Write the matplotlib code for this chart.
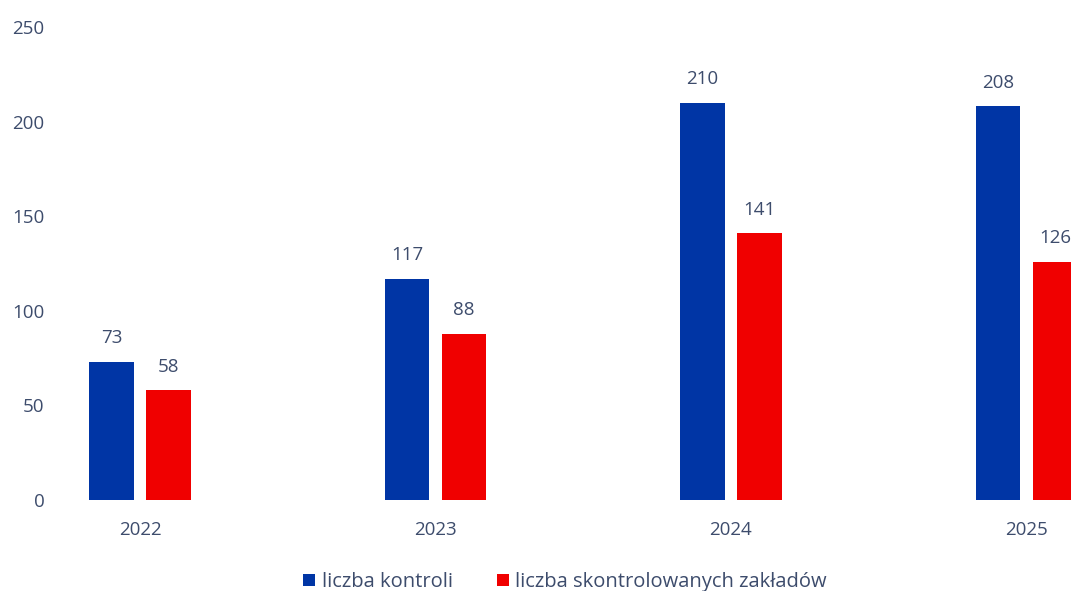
import matplotlib.pyplot as plt
import numpy as np

plt.rcParams["font.family"] = ["Open Sans", "DejaVu Sans"]

# dane
lata = ["2022", "2023", "2024", "2025"]
liczba_kontroli = [73, 117, 210, 208]
liczba_zakladow = [58, 88, 141, 126]

KOLOR_TEKSTU = "#3D4C6C"
NIEBIESKI = "#0035A5"
CZERWONY = "#F00000"

fig = plt.figure(figsize=(10.71, 5.91), dpi=100)
# osie siegaja prawej krawedzi - wykres jest uciety jak w oryginale
ax = fig.add_axes([60 / 1071, 91 / 591, 1 - 60 / 1071, 473 / 591])

x = np.arange(len(lata))
szer = 0.152
przes = 0.0964

b1 = ax.bar(x - przes, liczba_kontroli, szer, color=NIEBIESKI, label="liczba kontroli")
b2 = ax.bar(x + przes, liczba_zakladow, szer, color=CZERWONY, label="liczba skontrolowanych zakładów")

for bars in (b1, b2):
    for b in bars:
        ax.annotate(f"{b.get_height():.0f}",
                    (b.get_x() + b.get_width() / 2, b.get_height()),
                    xytext=(0, 17), textcoords="offset points",
                    ha="center", va="center", fontsize=13.5, color=KOLOR_TEKSTU)

ax.set_ylim(0, 250)
ax.set_yticks(range(0, 251, 50))
ax.set_xlim(-0.2707, 3.1506)
ax.set_xticks(x)
ax.set_xticklabels(lata)

for s in ax.spines.values():
    s.set_visible(False)
ax.tick_params(axis="both", length=0, labelsize=13.5, colors=KOLOR_TEKSTU)
ax.tick_params(axis="y", pad=11)
ax.tick_params(axis="x", pad=15)

fig.legend(handles=[b1, b2], loc="center", bbox_to_anchor=(565 / 1071, 9 / 591),
           ncol=2, frameon=False, fontsize=14.5, labelcolor=KOLOR_TEKSTU,
           handlelength=0.6, handleheight=0.6, handletextpad=0.3, columnspacing=2.2)

fig.savefig("out.png", dpi=100)
